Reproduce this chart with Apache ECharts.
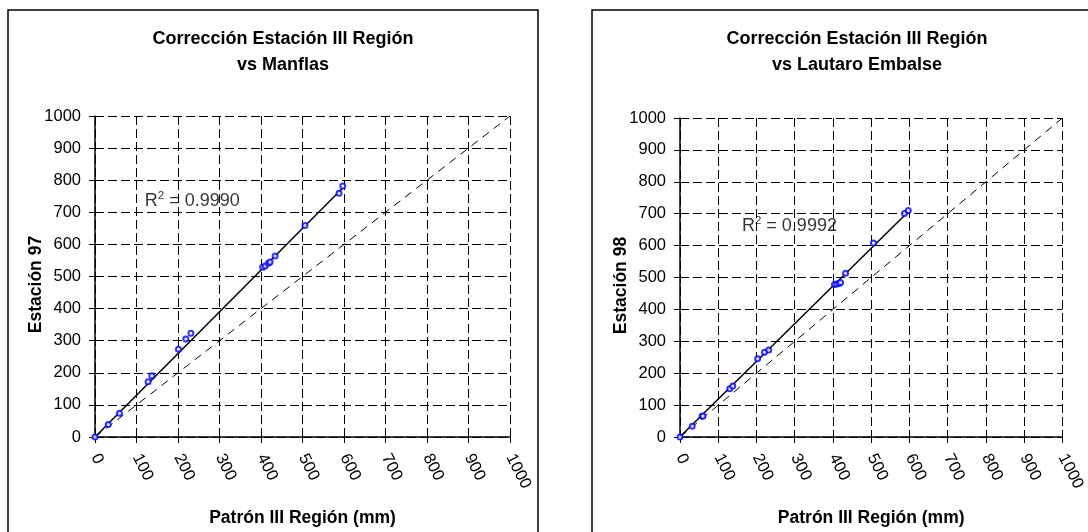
<!DOCTYPE html>
<html>
<head>
<meta charset="utf-8">
<script src="https://cdn.jsdelivr.net/npm/echarts@6/dist/echarts.min.js"></script>
<style>
html,body{margin:0;padding:0;background:#fff;}
#c{width:1088px;height:532px;}
</style>
</head>
<body>
<div id="c"></div>
<script>
// ---- data ----
const axisMin = 0, axisMax = 1000, axisStep = 100;

const titleLeft = 'Corrección Estación III Región\nvs Manflas';
const titleRight = 'Corrección Estación III Región\nvs Lautaro Embalse';
const xName = 'Patrón III Región (mm)';
const yNameLeft = 'Estación 97';
const yNameRight = 'Estación 98';

const manflasX = [0, 32, 59, 128, 137, 201, 219, 231, 404, 410, 418, 422, 434, 506, 588, 597];
const manflasY = [0, 39, 74, 172, 191, 273, 305, 323, 529, 533, 541, 545, 564, 659, 759, 782];
const manflasTrendX = [0, 597];
const manflasTrendY = [0, 776];
const manflasR2 = '0.9990';
const manflasR2At = [120, 735];

const lautaroX = [0, 32, 58, 60, 130, 138, 203, 221, 232, 404, 410, 416, 420, 433, 506, 587, 597];
const lautaroY = [0, 34, 65, 66, 151, 160, 245, 266, 273, 478, 480, 481, 484, 513, 608, 701, 710];
const lautaroTrendX = [0, 597];
const lautaroTrendY = [1, 706];
const lautaroR2 = '0.9992';
const lautaroR2At = [162, 662];

const identityX = [0, 1000];
const identityY = [0, 1000];

const zip = (a, b) => a.map((v, i) => [v, b[i]]);

const FONT = 'Liberation Sans, Arial, Helvetica, sans-serif';
const plain = v => String(v);

function xAxisFor(gi) {
  return {
    type: 'value', gridIndex: gi, min: axisMin, max: axisMax, interval: axisStep,
    name: xName, nameLocation: 'middle', nameGap: 72, nameMoveOverlap: false,
    nameTextStyle: {fontFamily: FONT, fontWeight: 'bold', fontSize: 17.5, color: '#000'},
    axisLine: {show: true, onZero: false, lineStyle: {color: '#000', width: 1.5}},
    axisTick: {show: true, inside: false, length: 6, lineStyle: {color: '#000', width: 1}},
    axisLabel: {show: true, rotate: -63, margin: 18, formatter: plain, fontFamily: FONT, fontSize: 16.5, color: '#000'},
    splitLine: {show: true, lineStyle: {color: '#000', width: 1, type: [9, 4]}}
  };
}
function yAxisFor(gi, name) {
  return {
    type: 'value', gridIndex: gi, position: 'left', min: axisMin, max: axisMax, interval: axisStep,
    name: name, nameLocation: 'middle', nameGap: 50, nameRotate: 90, nameMoveOverlap: false,
    nameTextStyle: {fontFamily: FONT, fontWeight: 'bold', fontSize: 17.5, color: '#000', padding: [0, 0, 0, -16]},
    axisLine: {show: true, onZero: false, lineStyle: {color: '#000', width: 1.5}},
    axisTick: {show: true, inside: false, length: 6, lineStyle: {color: '#000', width: 1}},
    axisLabel: {show: true, margin: 14, formatter: plain, fontFamily: FONT, fontSize: 16.5, color: '#000'},
    splitLine: {show: true, lineStyle: {color: '#000', width: 1, type: [9, 4]}}
  };
}
function yAxisInnerTicks(gi) {
  return {
    type: 'value', gridIndex: gi, position: 'left', min: axisMin, max: axisMax, interval: axisStep,
    axisLine: {show: false}, axisLabel: {show: false}, splitLine: {show: false},
    axisTick: {show: true, inside: true, length: 6, lineStyle: {color: '#000', width: 1}}
  };
}

function seriesFor(gi, xs, ys, tx, ty, r2, r2At) {
  return [
    {type: 'line', xAxisIndex: gi, yAxisIndex: gi * 2, data: zip(identityX, identityY),
     symbol: 'none', silent: true, z: 2,
     lineStyle: {color: '#000', width: 1, type: [8, 6]}},
    {type: 'line', xAxisIndex: gi, yAxisIndex: gi * 2, data: zip(tx, ty),
     symbol: 'none', silent: true, z: 3,
     lineStyle: {color: '#000', width: 1.5}},
    {type: 'scatter', xAxisIndex: gi, yAxisIndex: gi * 2, data: zip(xs, ys),
     symbol: 'emptyCircle', symbolSize: 5, z: 4,
     itemStyle: {color: '#0000FF', borderColor: '#0000FF', borderWidth: 1}},
    {type: 'scatter', xAxisIndex: gi, yAxisIndex: gi * 2, data: [r2At],
     symbolSize: 0, z: 5, silent: true,
     label: {show: true, position: 'right', distance: 0,
       formatter: '{a|R}{s|2}{a| = ' + r2 + '}',
       rich: {
         a: {fontFamily: FONT, fontSize: 18, color: '#000'},
         s: {fontFamily: FONT, fontSize: 11.5, color: '#000', verticalAlign: 'top', padding: [0, 0, 10, 0]}
       }}}
  ];
}

const chart = echarts.init(document.getElementById('c'), null, {renderer: 'canvas'});
chart.setOption({
  backgroundColor: '#fff',
  animation: false,
  title: [
    {text: titleLeft, left: 278, top: 21, textAlign: 'center',
     textStyle: {fontFamily: FONT, fontWeight: 'bold', fontSize: 18, color: '#000', lineHeight: 26}},
    {text: titleRight, left: 852, top: 21, textAlign: 'center',
     textStyle: {fontFamily: FONT, fontWeight: 'bold', fontSize: 18, color: '#000', lineHeight: 26}}
  ],
  graphic: [
    {type: 'rect', shape: {x: 8, y: 10, width: 530, height: 560}, style: {fill: null, stroke: '#000', lineWidth: 1.5}, z: 0, silent: true},
    {type: 'rect', shape: {x: 592, y: 10, width: 560, height: 560}, style: {fill: null, stroke: '#000', lineWidth: 1.5}, z: 0, silent: true}
  ],
  grid: [
    {left: 95, top: 116, width: 415, height: 321},
    {left: 680, top: 118, width: 390, height: 323}
  ],
  xAxis: [xAxisFor(0), xAxisFor(1)],
  yAxis: [yAxisFor(0, yNameLeft), yAxisInnerTicks(0), yAxisFor(1, yNameRight), yAxisInnerTicks(1)],
  series: [
    ...seriesFor(0, manflasX, manflasY, manflasTrendX, manflasTrendY, manflasR2, manflasR2At),
    ...seriesFor(1, lautaroX, lautaroY, lautaroTrendX, lautaroTrendY, lautaroR2, lautaroR2At)
  ]
});
</script>
</body>
</html>
